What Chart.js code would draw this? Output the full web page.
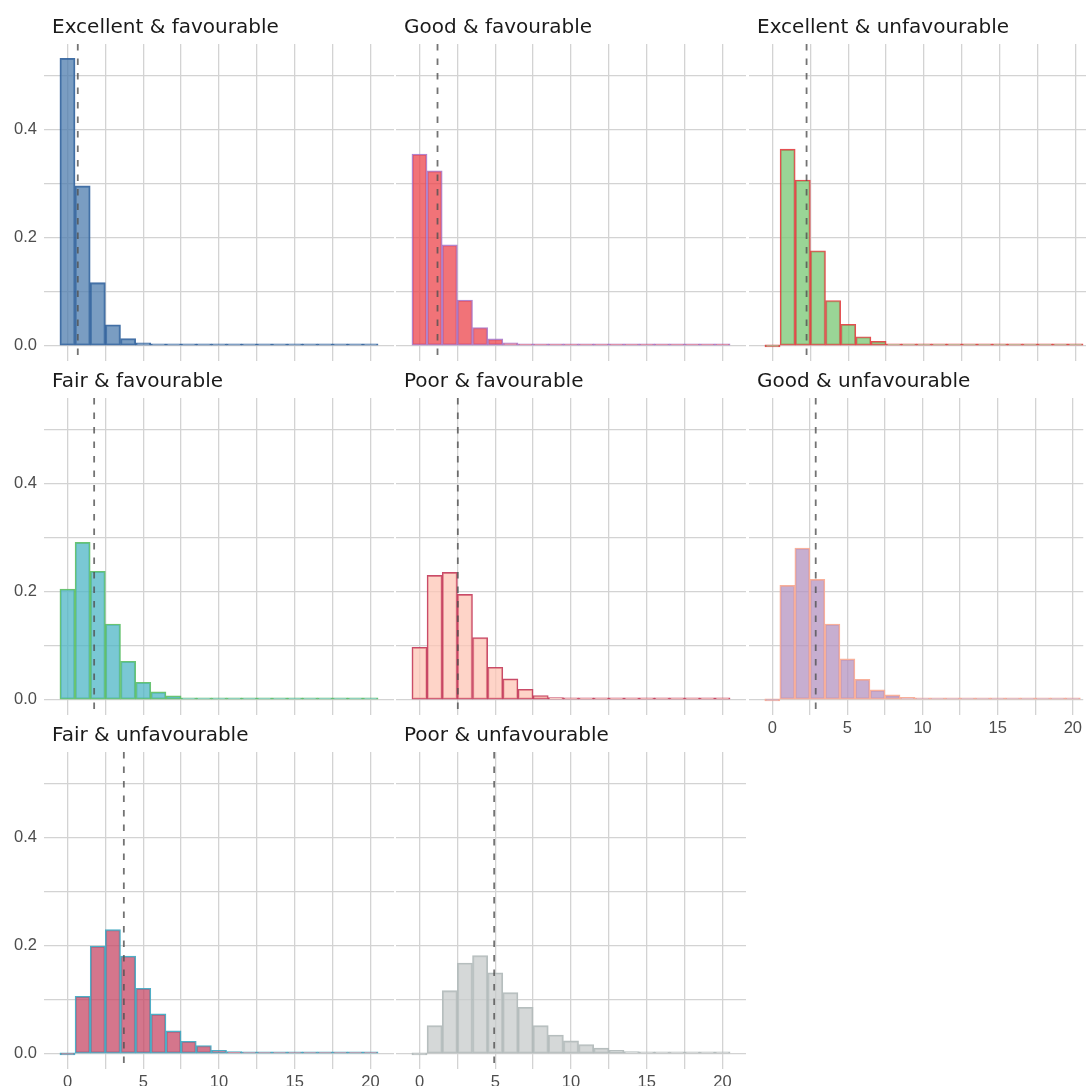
<!DOCTYPE html>
<html>
<head>
<meta charset="utf-8">
<script src="https://cdn.jsdelivr.net/npm/chart.js@4.4.1/dist/chart.umd.min.js"></script>
<style>
  html, body { margin: 0; padding: 0; background: #fff; overflow: hidden; width: 1086px; height: 1086px; }
  canvas { position: absolute; }
</style>
</head>
<body>
<script>
// Histogram bins (bin centres, width 1)
const bins = [0, 1, 2, 3, 4, 5, 6, 7, 8, 9, 10, 11, 12, 13, 14, 15, 16, 17, 18, 19, 20];

const panelNames = [
  'Excellent & favourable', 'Good & favourable', 'Excellent & unfavourable',
  'Fair & favourable', 'Poor & favourable', 'Good & unfavourable',
  'Fair & unfavourable', 'Poor & unfavourable'
];

// Density per bin
const excellentFav   = [0.532, 0.296, 0.117, 0.039, 0.0136, 0.0055, 0.002, 0.001, 0.0006, 0.0004, 0.0003, 0.0002, 0.0002, 0.0001, 0.0001, 0.0001, 0.0001, 0.0001, 0.0001, 0.0001, 0.0001];
const goodFav        = [0.355, 0.324, 0.187, 0.085, 0.034, 0.013, 0.0055, 0.0025, 0.001, 0.0006, 0.0004, 0.0003, 0.0002, 0.0001, 0.0001, 0.0001, 0.0001, 0.0001, 0.0001, 0.0001, 0.0001];
const excellentUnfav = [0, 0.364, 0.307, 0.176, 0.084, 0.040, 0.017, 0.0087, 0.0037, 0.0015, 0.001, 0.0006, 0.0004, 0.0003, 0.0002, 0.0001, 0.0001, 0.0001, 0.0001, 0.0001, 0.0001];
const fairFav        = [0.205, 0.2915, 0.238, 0.1405, 0.0715, 0.0327, 0.0148, 0.0074, 0.0037, 0.0018, 0.001, 0.0006, 0.0004, 0.0002, 0.0001, 0.0001, 0.0001, 0.0001, 0.0001, 0.0001, 0.0001];
const poorFav        = [0.0974, 0.2305, 0.236, 0.1954, 0.1153, 0.0604, 0.0388, 0.0198, 0.0081, 0.0044, 0.0018, 0.0015, 0.0012, 0.001, 0.0005, 0.0004, 0.0003, 0.0002, 0.0001, 0.0001, 0.0001];
const goodUnfav      = [0, 0.212, 0.281, 0.223, 0.1405, 0.0758, 0.038, 0.0185, 0.0092, 0.005, 0.003, 0.0015, 0.0008, 0.0005, 0.0003, 0.0002, 0.0001, 0.0001, 0.0001, 0.0001, 0.0001];
const fairUnfav      = [0, 0.1067, 0.1996, 0.230, 0.181, 0.1215, 0.074, 0.0425, 0.0235, 0.0155, 0.0068, 0.0044, 0.003, 0.002, 0.0015, 0.001, 0.0006, 0.0004, 0.0003, 0.0002, 0.0001];
const poorUnfav      = [0, 0.0524, 0.117, 0.168, 0.182, 0.150, 0.1135, 0.0863, 0.0524, 0.035, 0.024, 0.0174, 0.011, 0.0068, 0.0044, 0.0035, 0.003, 0.0015, 0.001, 0.0008, 0.0005];

// Means (dashed lines)
const means = [0.68, 1.19, 2.25, 1.76, 2.53, 2.89, 3.72, 4.93];

const series = [excellentFav, goodFav, excellentUnfav, fairFav, poorFav, goodUnfav, fairUnfav, poorUnfav];

const fills = [
  'rgba(78,124,174,0.75)', 'rgba(236,68,75,0.75)', 'rgba(120,199,115,0.75)', 'rgba(78,182,198,0.75)',
  'rgba(253,198,182,0.75)', 'rgba(180,147,192,0.75)', 'rgba(198,72,102,0.75)', 'rgba(199,203,203,0.75)'
];
const strokes = [
  'rgba(45,95,155,0.9)', 'rgba(165,110,195,0.85)', 'rgba(225,60,62,0.9)', 'rgba(90,190,100,0.9)',
  'rgba(195,55,88,0.9)', 'rgba(248,172,150,0.95)', 'rgba(60,165,192,0.9)', 'rgba(178,186,186,0.95)'
];

// layout (px)
const colLeft = [44, 396, 749];
const rowTop = [44, 398, 752];
const pxPerUnit = 15.15;
const panelH = 317;
const xMin = -1.55;
const yMin = -0.0279, yMax = 0.5586;
const yAxisW = 44, titleH = 44, xAxisH = 30;

Chart.defaults.font.family = '"Liberation Sans", Arial, sans-serif';
Chart.defaults.font.size = 16.5;
Chart.defaults.color = '#4d4d4d';

const panelDecor = {
  id: 'panelDecor',
  afterDatasetsDraw(chart, args, opts) {
    const { ctx, chartArea, scales } = chart;
    const px = scales.x.getPixelForValue(opts.mean);
    ctx.save();
    ctx.strokeStyle = 'rgba(80,80,80,0.8)';
    ctx.lineWidth = 1.8;
    ctx.setLineDash([6.5, 8]);
    ctx.beginPath();
    ctx.moveTo(px, chartArea.top);
    ctx.lineTo(px, chartArea.bottom);
    ctx.stroke();
    ctx.restore();
  },
  afterDraw(chart, args, opts) {
    const { ctx, chartArea } = chart;
    ctx.save();
    ctx.fillStyle = '#1a1a1a';
    ctx.font = '20px "DejaVu Sans", sans-serif';
    ctx.textBaseline = 'alphabetic';
    ctx.textAlign = 'left';
    ctx.fillText(opts.title, chartArea.left + 8, chartArea.top - 11);
    ctx.restore();
  }
};

series.forEach((vals, i) => {
  const col = i % 3, row = Math.floor(i / 3);
  const panelW = col === 2 ? 1086 - colLeft[col] : 350;
  const xMax = xMin + panelW / pxPerUnit;
  const showX = row === 2 || (row === 1 && col === 2);
  const showY = col === 0;

  const canvas = document.createElement('canvas');
  canvas.width = yAxisW + panelW;
  canvas.height = titleH + panelH + xAxisH;
  canvas.style.left = (colLeft[col] - yAxisW) + 'px';
  canvas.style.top = (rowTop[row] - titleH) + 'px';
  document.body.appendChild(canvas);

  new Chart(canvas, {
    type: 'bar',
    data: {
      datasets: [{
        data: bins.map((b, k) => ({ x: b, y: vals[k] })),
        backgroundColor: fills[i],
        borderColor: strokes[i],
        borderWidth: 1.4,
        borderSkipped: false,
        minBarLength: 2.2,
        barPercentage: 1,
        categoryPercentage: 1
      }]
    },
    options: {
      responsive: false,
      animation: false,
      devicePixelRatio: 1,
      layout: { padding: { top: titleH, left: 0, right: 0, bottom: 0 } },
      plugins: {
        legend: { display: false },
        tooltip: { enabled: false },
        panelDecor: { mean: means[i], title: panelNames[i] }
      },
      scales: {
        x: {
          type: 'linear',
          min: xMin,
          max: xMax,
          offset: false,
          afterFit: s => { s.height = xAxisH; },
          border: { display: false },
          grid: { color: '#d3d3d3', lineWidth: 1.3, drawTicks: false, offset: false },
          ticks: {
            display: showX,
            stepSize: 2.5,
            includeBounds: false,
            maxRotation: 0,
            autoSkip: false,
            padding: 4,
            callback: v => (v % 5 === 0 ? String(v) : '')
          }
        },
        y: {
          min: yMin,
          max: yMax,
          afterFit: s => { s.width = yAxisW; },
          border: { display: false },
          grid: { color: '#d3d3d3', lineWidth: 1.3, drawTicks: false },
          ticks: {
            display: showY,
            stepSize: 0.1,
            includeBounds: false,
            autoSkip: false,
            padding: 7,
            callback: v => (Math.round(v * 10) % 2 === 0 ? v.toFixed(1) : '')
          }
        }
      }
    },
    plugins: [panelDecor]
  });
});
</script>
</body>
</html>
